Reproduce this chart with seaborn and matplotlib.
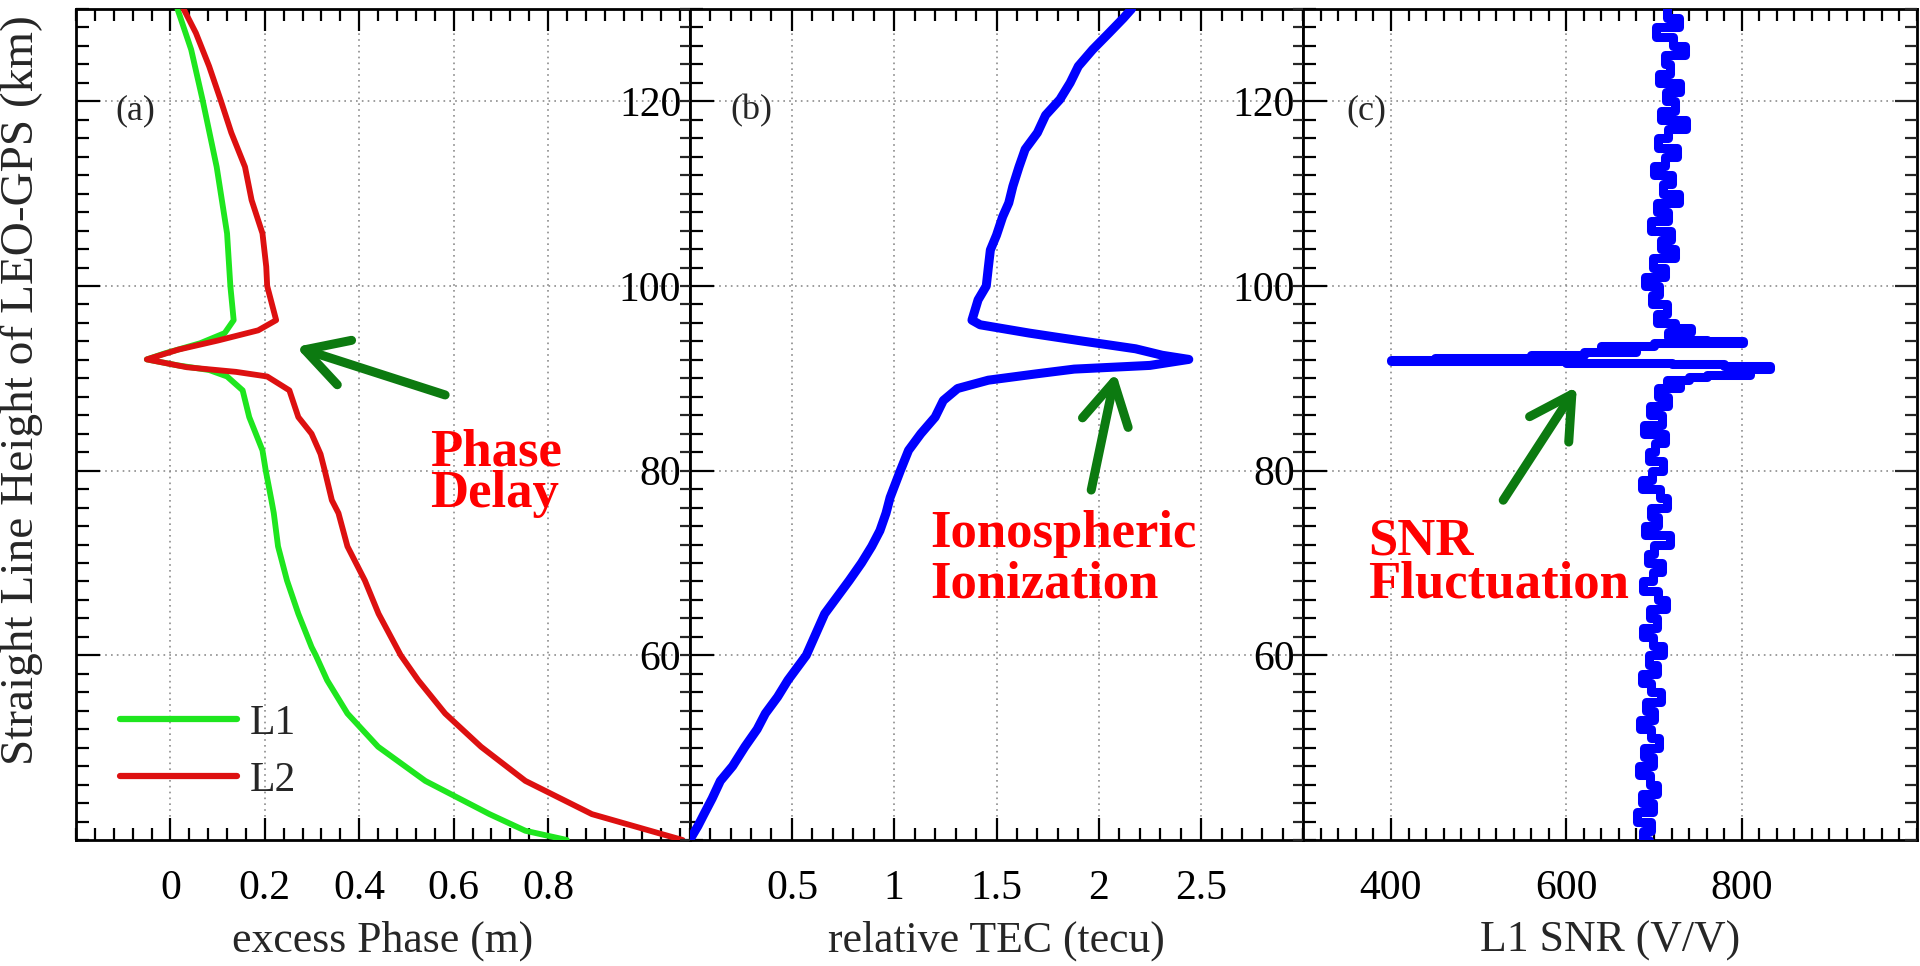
import numpy as np
import pandas as pd
import matplotlib
matplotlib.use("Agg")
import matplotlib.pyplot as plt
import seaborn as sns
from matplotlib.ticker import FixedLocator, MultipleLocator, FuncFormatter
from matplotlib.lines import Line2D

# ---------------- data ----------------
# Panel (a): excess phase (m) vs height (km)
l1_height = [130.0, 125.6, 120.2, 112.9, 105.7, 100.0, 96.3, 94.9, 93.8, 92.7, 92.05,
             91.4, 90.9, 90.2, 88.7, 85.8, 82.2, 80.0, 76.8, 75.4, 71.8, 68.1, 64.5,
             60.9, 60.0, 57.3, 53.7, 50.1, 46.4, 42.8, 41.0, 40.0]
l1_phase = [0.015, 0.044, 0.068, 0.098, 0.120, 0.127, 0.134, 0.115, 0.063, -0.012, -0.05,
            0.016, 0.082, 0.120, 0.153, 0.167, 0.195, 0.202, 0.214, 0.219, 0.228, 0.247, 0.271,
            0.299, 0.308, 0.332, 0.375, 0.440, 0.540, 0.676, 0.752, 0.840]

l2_height = [130.0, 127.4, 123.8, 120.2, 116.6, 112.9, 109.3, 105.7, 102.1, 100.0, 96.3,
             95.2, 94.1, 93.1, 92.05, 91.2, 90.7, 90.2, 88.7, 85.8, 84.0, 81.8, 80.0,
             76.8, 75.4, 71.8, 68.1, 64.5, 60.0, 57.3, 53.7, 50.1, 46.4, 42.8, 40.0]
l2_phase = [0.028, 0.054, 0.082, 0.106, 0.129, 0.158, 0.172, 0.195, 0.203, 0.205, 0.224,
            0.186, 0.101, 0.016, -0.05, 0.035, 0.139, 0.205, 0.252, 0.271, 0.299, 0.318, 0.327,
            0.342, 0.356, 0.375, 0.412, 0.441, 0.488, 0.525, 0.582, 0.658, 0.752, 0.893, 1.085]

# Panel (b): relative TEC (tecu) vs height (km)
tec_height = [130.0, 129.0, 127.4, 125.6, 123.8, 122.0, 120.2, 118.5, 116.6, 114.8, 112.9,
              110.8, 109.0, 107.5, 105.5, 103.9, 102.0, 100.0, 98.5, 96.3, 95.8, 94.9,
              94.1, 93.2, 92.5, 92.05, 91.4, 91.0, 90.5, 89.8, 88.9, 87.6, 85.8, 84.0,
              82.2, 80.0, 77.1, 75.4, 73.5, 71.8, 70.0, 68.1, 66.3, 64.5, 62.0, 60.0,
              57.3, 55.5, 53.7, 52.0, 50.1, 48.0, 46.4, 44.5, 42.8, 41.5, 40.0]
tec_value = [2.16, 2.12, 2.05, 1.97, 1.90, 1.86, 1.81, 1.74, 1.70, 1.64, 1.61,
             1.58, 1.56, 1.53, 1.50, 1.47, 1.46, 1.45, 1.41, 1.38, 1.42, 1.66,
             1.90, 2.18, 2.31, 2.44, 2.25, 1.88, 1.70, 1.46, 1.31, 1.24, 1.20, 1.13,
             1.07, 1.03, 0.98, 0.96, 0.93, 0.89, 0.84, 0.78, 0.72, 0.66, 0.61, 0.57,
             0.48, 0.43, 0.37, 0.33, 0.27, 0.21, 0.15, 0.11, 0.07, 0.04, 0.0]

# Panel (c): L1 SNR (V/V) vs height (km)
snr_height = [130, 129, 128, 127, 126, 125, 124, 123, 122, 121, 120, 119, 118, 117, 116,
              115, 114, 113, 112, 111, 110, 109, 108, 107, 106, 105, 104, 103, 102, 101,
              100, 99, 98, 97, 96, 95.5, 95, 94.5, 94.2, 94.0, 93.8, 93.5, 93.2, 92.8,
              92.5, 92.2, 92.0, 91.9, 91.7, 91.5, 91.3, 91.0, 90.7, 90.4, 90.1, 89.8,
              89.5, 89, 88, 87, 86, 85, 84, 83, 82, 81, 80, 79, 78, 77, 76, 75, 74, 73,
              72, 71, 70, 69, 68, 67, 66, 65, 64, 63, 62, 61, 60, 59, 58, 57, 56, 55,
              54, 53, 52, 51, 50, 49, 48, 47, 46, 45, 44, 43, 42, 41, 40]
snr_value = [715, 728, 702, 722, 735, 712, 718, 706, 730, 714, 724, 708, 736, 716, 704,
             726, 712, 700, 721, 710, 728, 703, 716, 697, 719, 708, 724, 699, 713, 690,
             706, 698, 715, 703, 724, 742, 716, 735, 760, 802, 700, 640, 680, 620,
             560, 450, 400, 600, 720, 780, 832, 790, 810, 760, 740, 715,
             730, 705, 716, 695, 709, 689, 712, 701, 694, 710, 698, 686, 707, 715, 697, 704, 690, 718,
             700, 693, 709, 699, 688, 705, 714, 696, 703, 687, 699, 710, 694, 703, 686, 697, 708, 691,
             700, 684, 697, 706, 689, 699, 683, 695, 703, 686, 699, 681, 697, 688, 694]

x_labels = ["excess Phase (m)", "relative TEC (tecu)", "L1 SNR (V/V)"]
y_label = "Straight Line Height of LEO-GPS (km)"
panel_tags = ["(a)", "(b)", "(c)"]
series_names = ["L1", "L2"]

# ---------------- style ----------------
sns.set_theme(style="white")
plt.rcParams["font.family"] = ["Liberation Serif", "DejaVu Serif"]

W, H = 1920, 966
fig = plt.figure(figsize=(W / 100, H / 100), dpi=100)
fig.patch.set_facecolor("white")

left_px, right_px, top_px, bot_px = 76, 1917, 9, 840
pw = (right_px - left_px) / 3.0
axes = []
for i in range(3):
    x0 = (left_px + i * pw) / W
    ax = fig.add_axes([x0, (H - bot_px) / H, pw / W, (bot_px - top_px) / H])
    axes.append(ax)

GREEN = "#1ee61e"
RED = "#dd1010"
BLUE = "#0000ff"
ARROW = "#0c7a10"
TXT_RED = "#ff0000"

fmt = FuncFormatter(lambda v, p: "%g" % v)

xlims = [(-0.2, 1.1), (0.0, 3.0), (300, 1000)]
xmajors = [[0, 0.2, 0.4, 0.6, 0.8], [0.5, 1, 1.5, 2, 2.5], [400, 600, 800]]
xminors = [0.04, 0.1, 20]

for i, ax in enumerate(axes):
    ax.set_facecolor("white")
    ax.set_xlim(*xlims[i])
    ax.set_ylim(40, 130)
    ax.xaxis.set_major_locator(FixedLocator(xmajors[i]))
    ax.xaxis.set_minor_locator(MultipleLocator(xminors[i]))
    ax.xaxis.set_major_formatter(fmt)
    ax.yaxis.set_major_locator(FixedLocator([60, 80, 100, 120]))
    ax.yaxis.set_minor_locator(MultipleLocator(2))
    ax.yaxis.set_major_formatter(fmt)
    for s in ax.spines.values():
        s.set_visible(True)
        s.set_color("black")
        s.set_linewidth(2.0)
    ax.grid(True, which="major", linestyle=(0, (1, 2.5)), color="#8c8c8c", linewidth=1.2)
    ax.tick_params(axis="both", which="both", direction="in", colors="black", width=1.6)
    ax.tick_params(axis="x", which="major", length=16, top=True, bottom=True,
                   labelsize=30, pad=21)
    ax.tick_params(axis="x", which="minor", length=8.5, top=True, bottom=True)
    ax.tick_params(axis="y", which="major", length=17, left=True, right=False,
                   labelsize=30, pad=6)
    ax.tick_params(axis="y", which="minor", length=9, left=True, right=False)
    if i == 0:
        ax.tick_params(axis="y", which="both", labelleft=False)
    ax.set_xlabel(x_labels[i], fontsize=31.5)
    ax.xaxis.set_label_coords(0.5, -0.097)
    ax.set_ylabel("")
    ax.text(0.064 if i == 0 else (0.067 if i == 1 else 0.07), 0.878, panel_tags[i],
            transform=ax.transAxes, fontsize=26, ha="left", va="center", zorder=6)

# right-side ticks (short for a, b; normal for c)
for i, ax in enumerate(axes):
    tw = ax.twinx()
    tw.set_ylim(40, 130)
    tw.yaxis.set_major_locator(FixedLocator([60, 80, 100, 120]))
    tw.yaxis.set_minor_locator(MultipleLocator(2))
    tw.tick_params(axis="y", which="both", direction="in", labelright=False, width=1.6)
    if i < 2:
        tw.tick_params(axis="y", which="both", length=7)
    else:
        tw.tick_params(axis="y", which="major", length=16)
        tw.tick_params(axis="y", which="minor", length=9)
    tw.grid(False)
    for s in tw.spines.values():
        s.set_visible(False)

# ---------------- panel (a) ----------------
ax = axes[0]
df1 = pd.DataFrame({"phase": l1_phase, "height": l1_height})
df2 = pd.DataFrame({"phase": l2_phase, "height": l2_height})
sns.lineplot(data=df1, x="phase", y="height", sort=False, estimator=None, color=GREEN,
             lw=4.2, ax=ax, legend=False, zorder=3)
sns.lineplot(data=df2, x="phase", y="height", sort=False, estimator=None, color=RED,
             lw=4.2, ax=ax, legend=False, zorder=3)
handles = [Line2D([0], [0], color=GREEN, lw=4.5), Line2D([0], [0], color=RED, lw=4.5)]
leg = ax.legend(handles, series_names, loc="center left", bbox_to_anchor=(0.072, 0.106),
                frameon=False, fontsize=30, handlelength=2.8, handletextpad=0.3,
                labelspacing=0.45, borderpad=0, borderaxespad=0)
ax.set_ylabel("")

# ---------------- panel (b) ----------------
ax = axes[1]
dft = pd.DataFrame({"tec": tec_value, "height": tec_height})
sns.lineplot(data=dft, x="tec", y="height", sort=False, estimator=None, color=BLUE,
             lw=6.5, ax=ax, legend=False, zorder=3)
ax.set_ylabel("")

# ---------------- panel (c) ----------------
ax = axes[2]
dfs = pd.DataFrame({"snr": snr_value, "height": snr_height})
sns.lineplot(data=dfs, x="snr", y="height", sort=False, estimator=None, color=BLUE,
             lw=6.5, ax=ax, legend=False, zorder=3, drawstyle="steps-pre")
ax.set_ylabel("")

# ---------------- annotations ----------------
arrow_kw = dict(arrowstyle="->,head_length=0.75,head_width=0.42", color=ARROW, lw=6.5,
                mutation_scale=40, capstyle="round", joinstyle="round", shrinkA=0, shrinkB=0)
axes[0].annotate("", xy=(0.266, 93.4), xytext=(0.582, 88.2), arrowprops=arrow_kw, zorder=7)
axes[1].annotate("", xy=(2.083, 90.6), xytext=(1.963, 77.9), arrowprops=arrow_kw, zorder=7)
axes[2].annotate("", xy=(612, 89.1), xytext=(528, 76.8), arrowprops=arrow_kw, zorder=7)

txt_kw = dict(color=TXT_RED, fontsize=38, fontweight="bold", ha="left", va="top", zorder=8)
axes[0].text(0.55, 84.6, "Phase\nDelay", linespacing=0.82, **txt_kw)
axes[1].text(1.176, 75.7, "Ionospheric\nIonization", linespacing=1.05, **txt_kw)
axes[2].text(374, 74.9, "SNR\nFluctuation", linespacing=0.85, **txt_kw)

fig.text(22 / W, 1 - 390 / H, y_label, rotation=90, ha="center", va="center", fontsize=34)

fig.savefig("out.png", dpi=100, facecolor="white")
